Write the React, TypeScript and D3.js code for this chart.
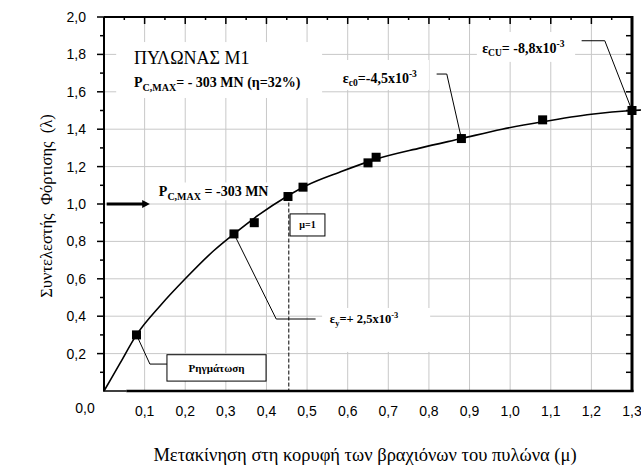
import React from "react";
import * as d3 from "d3";

const W = 641, H = 467;
const xTicks = [0.1, 0.2, 0.3, 0.4, 0.5, 0.6, 0.7, 0.8, 0.9, 1.0, 1.1, 1.2, 1.3];
const xTickLabels = ["0,1","0,2","0,3","0,4","0,5","0,6","0,7","0,8","0,9","1,0","1,1","1,2","1,3"];
const yTicks = [0.2, 0.4, 0.6, 0.8, 1.0, 1.2, 1.4, 1.6, 1.8, 2.0];
const yTickLabels = ["0,2","0,4","0,6","0,8","1,0","1,2","1,4","1,6","1,8","2,0"];

const curveX = [0, 0.04, 0.08, 0.14, 0.2, 0.27, 0.32, 0.38, 0.45, 0.5, 0.58, 0.67, 0.78, 0.88, 0.98, 1.08, 1.2, 1.3, 1.325];
const curveY = [0, 0.15, 0.30, 0.46, 0.60, 0.75, 0.84, 0.94, 1.04, 1.10, 1.17, 1.24, 1.30, 1.35, 1.40, 1.44, 1.48, 1.50, 1.503];

const markerX = [0.08, 0.32, 0.37, 0.453, 0.49, 0.65, 0.67, 0.88, 1.08, 1.3];
const markerY = [0.30, 0.84, 0.90, 1.04, 1.09, 1.22, 1.25, 1.35, 1.45, 1.50];

const serif = "'Liberation Serif', 'Times New Roman', serif";
const sans = "'Liberation Sans', Arial, sans-serif";

export default function App() {
  const x = d3.scaleLinear().domain([0, 1.3]).range([104, 632]);
  const y = d3.scaleLinear().domain([0, 2]).range([391, 17]);
  const line = d3.line<number>().x((_, i) => x(curveX[i])).y((_, i) => y(curveY[i])).curve(d3.curveMonotoneX);
  const pts = curveX.map((_, i) => i);

  const gridX = d3.range(1, 13).map(i => i / 10);
  const gridY = d3.range(1, 10).map(i => i / 5);
  const topTicks = d3.range(1, 26).map(i => i * 0.05);
  const sideTicks = d3.range(1, 20).map(i => i / 10);

  const wbox = (x0: number, x1: number, y0: number, y1: number) => (
    <rect x={x(x0)} y={y(y0)} width={x(x1) - x(x0)} height={y(y1) - y(y0)} fill="#fff" />
  );
  const pl = (p: number[][]) => p.map(d => `${x(d[0])},${y(d[1])}`).join(" ");

  return (
    <svg width={W} height={H} style={{ position: "absolute", left: 0, top: 0, background: "#fff" }}>
      <rect width={W} height={H} fill="#fff" />
      {gridX.map(v => <line key={"gx" + v} x1={x(v)} x2={x(v)} y1={y(0)} y2={y(2)} stroke="#c8c8c8" strokeWidth={1} />)}
      {gridY.map(v => <line key={"gy" + v} x1={x(0)} x2={x(1.3)} y1={y(v)} y2={y(v)} stroke="#c8c8c8" strokeWidth={1} />)}

      {/* white backgrounds of annotations */}
      {wbox(0.03, 0.537, 1.866, 1.567)}
      {wbox(0.576, 0.8, 1.77, 1.61)}
      {wbox(0.918, 1.16, 1.92, 1.76)}
      {wbox(0.537, 0.803, 0.444, 0.209)}
      {wbox(0.13, 0.42, 1.115, 1.02)}

      {/* axes */}
      <line x1={x(0)} x2={x(1.3)} y1={y(2)} y2={y(2)} stroke="#000" strokeWidth={2} />
      <line x1={x(0)} x2={x(0)} y1={y(0)} y2={y(2)} stroke="#000" strokeWidth={2} />
      <line x1={x(1.3)} x2={x(1.3)} y1={y(0) + 1} y2={y(2) - 1} stroke="#000" strokeWidth={3} />
      <line x1={x(0) - 1} x2={x(0.055)} y1={y(0)} y2={y(0)} stroke="#000" strokeWidth={1.5} />
      <line x1={x(0.055)} x2={x(1.3) + 1.5} y1={y(0)} y2={y(0)} stroke="#000" strokeWidth={2.5} />

      {topTicks.map((v, i) => (
        <line key={"tt" + i} x1={x(v)} x2={x(v)} y1={y(2)} y2={y(2) + (i % 2 === 1 ? 7 : 3)} stroke="#000" strokeWidth={1.5} />
      ))}
      {sideTicks.map((v, i) => (
        <line key={"lt" + i} x1={x(0)} x2={x(0) - (i % 2 === 1 ? 7 : 4)} y1={y(v)} y2={y(v)} stroke="#000" strokeWidth={1.5} />
      ))}
      <line x1={x(0)} x2={x(0) - 7} y1={y(2)} y2={y(2)} stroke="#000" strokeWidth={1.5} />
      {sideTicks.map((v, i) => (
        <line key={"rt" + i} x1={x(1.3)} x2={x(1.3) - 6} y1={y(v)} y2={y(v)} stroke="#000" strokeWidth={1.5} />
      ))}

      {/* tick labels */}
      {xTicks.map((v, i) => (
        <text key={"xl" + i} x={x(v)} y={416} textAnchor="middle" fontFamily={sans} fontSize={14} fill="#000">{xTickLabels[i]}</text>
      ))}
      <text x={x(0) - 19} y={413} textAnchor="middle" fontFamily={sans} fontSize={14} fill="#000">0,0</text>
      {yTicks.map((v, i) => (
        <text key={"yl" + i} x={86} y={y(v) + 5} textAnchor="end" fontFamily={sans} fontSize={14} fill="#000">{yTickLabels[i]}</text>
      ))}

      {/* axis titles */}
      <text x={365} y={461} textAnchor="middle" fontFamily={serif} fontSize={18.5} fill="#000">Μετακίνηση στη κορυφή των βραχιόνων του πυλώνα (μ)</text>
      <text transform={`translate(52,${y(1) + 2}) rotate(-90)`} textAnchor="middle" fontFamily={serif} fontSize={16.5} fill="#000" style={{ whiteSpace: "pre" }}>{"Συντελεστής  Φόρτισης  (λ)"}</text>

      {/* dashed mu=1 line */}
      <line x1={x(0.455)} x2={x(0.455)} y1={y(1.04)} y2={y(0)} stroke="#000" strokeWidth={1} strokeDasharray="4,2" />

      {/* curve */}
      <path d={line(pts) || ""} fill="none" stroke="#000" strokeWidth={1.6} />
      {markerX.map((v, i) => (
        <rect key={"m" + i} x={x(v) - 4.5} y={y(markerY[i]) - 4.5} width={9} height={9} fill="#000" />
      ))}

      {/* leaders */}
      <polyline points={pl([[0.819, 1.695], [0.844, 1.695], [0.88, 1.35]])} fill="none" stroke="#000" strokeWidth={1} />
      <polyline points={pl([[1.176, 1.873], [1.233, 1.873], [1.3, 1.5]])} fill="none" stroke="#000" strokeWidth={1} />
      <polyline points={pl([[0.32, 0.84], [0.424, 0.385], [0.521, 0.385]])} fill="none" stroke="#000" strokeWidth={1} />
      <polyline points={pl([[0.08, 0.30], [0.113, 0.144], [0.155, 0.144]])} fill="none" stroke="#000" strokeWidth={1} />

      {/* boxes */}
      <rect x={x(0.458)} y={y(0.947)} width={x(0.544) - x(0.458)} height={y(0.829) - y(0.947)} fill="#fff" stroke="#000" strokeWidth={1} />
      <text x={(x(0.458) + x(0.544)) / 2} y={y(0.888) + 3.5} textAnchor="middle" fontFamily={serif} fontWeight="bold" fontSize={10} fill="#000">μ=1</text>
      <rect x={x(0.155)} y={y(0.194)} width={x(0.399) - x(0.155)} height={y(0.053) - y(0.194)} fill="#fff" stroke="#000" strokeWidth={1} />
      <text x={(x(0.155) + x(0.399)) / 2} y={y(0.1235) + 4} textAnchor="middle" fontFamily={serif} fontWeight="bold" fontSize={11} fill="#000">Ρηγμάτωση</text>

      {/* arrow */}
      <line x1={x(0.0066)} x2={x(0.1)} y1={y(1)} y2={y(1)} stroke="#000" strokeWidth={3} />
      <path d={`M${x(0.113)},${y(1)} L${x(0.094)},${y(1) - 4} L${x(0.094)},${y(1) + 4} Z`} fill="#000" />

      {/* texts */}
      <text x={x(0.074)} y={y(1.749)} fontFamily={serif} fontSize={18} fill="#000">ΠΥΛΩΝΑΣ Μ1</text>
      <text x={x(0.074)} y={y(1.626)} fontFamily={serif} fontWeight="bold" fontSize={14} fill="#000">
        P<tspan fontSize={10} dy={4}>C,MAX</tspan><tspan dy={-4}>= - 303 MN (η=32%)</tspan>
      </text>
      <text x={x(0.135)} y={y(1.043)} fontFamily={serif} fontWeight="bold" fontSize={14} fill="#000">
        P<tspan fontSize={10} dy={4}>C,MAX</tspan><tspan dy={-4}> = -303 MN</tspan>
      </text>
      <text x={x(0.588)} y={y(1.647)} fontFamily={serif} fontWeight="bold" fontSize={14} fill="#000">
        ε<tspan fontSize={9.5} dy={3}>c0</tspan><tspan dy={-3}>=-4,5x10</tspan><tspan fontSize={9.5} dy={-6}>-3</tspan>
      </text>
      <text x={x(0.931)} y={y(1.807)} fontFamily={serif} fontWeight="bold" fontSize={14} fill="#000">
        ε<tspan fontSize={9.5} dy={3}>CU</tspan><tspan dy={-3}>= -8,8x10</tspan><tspan fontSize={9.5} dy={-6}>-3</tspan>
      </text>
      <text x={x(0.556)} y={y(0.364)} fontFamily={serif} fontWeight="bold" fontSize={12.5} fill="#000">
        ε<tspan fontSize={8.5} dy={3}>y</tspan><tspan dy={-3}>=+ 2,5x10</tspan><tspan fontSize={8.5} dy={-5}>-3</tspan>
      </text>
    </svg>
  );
}
